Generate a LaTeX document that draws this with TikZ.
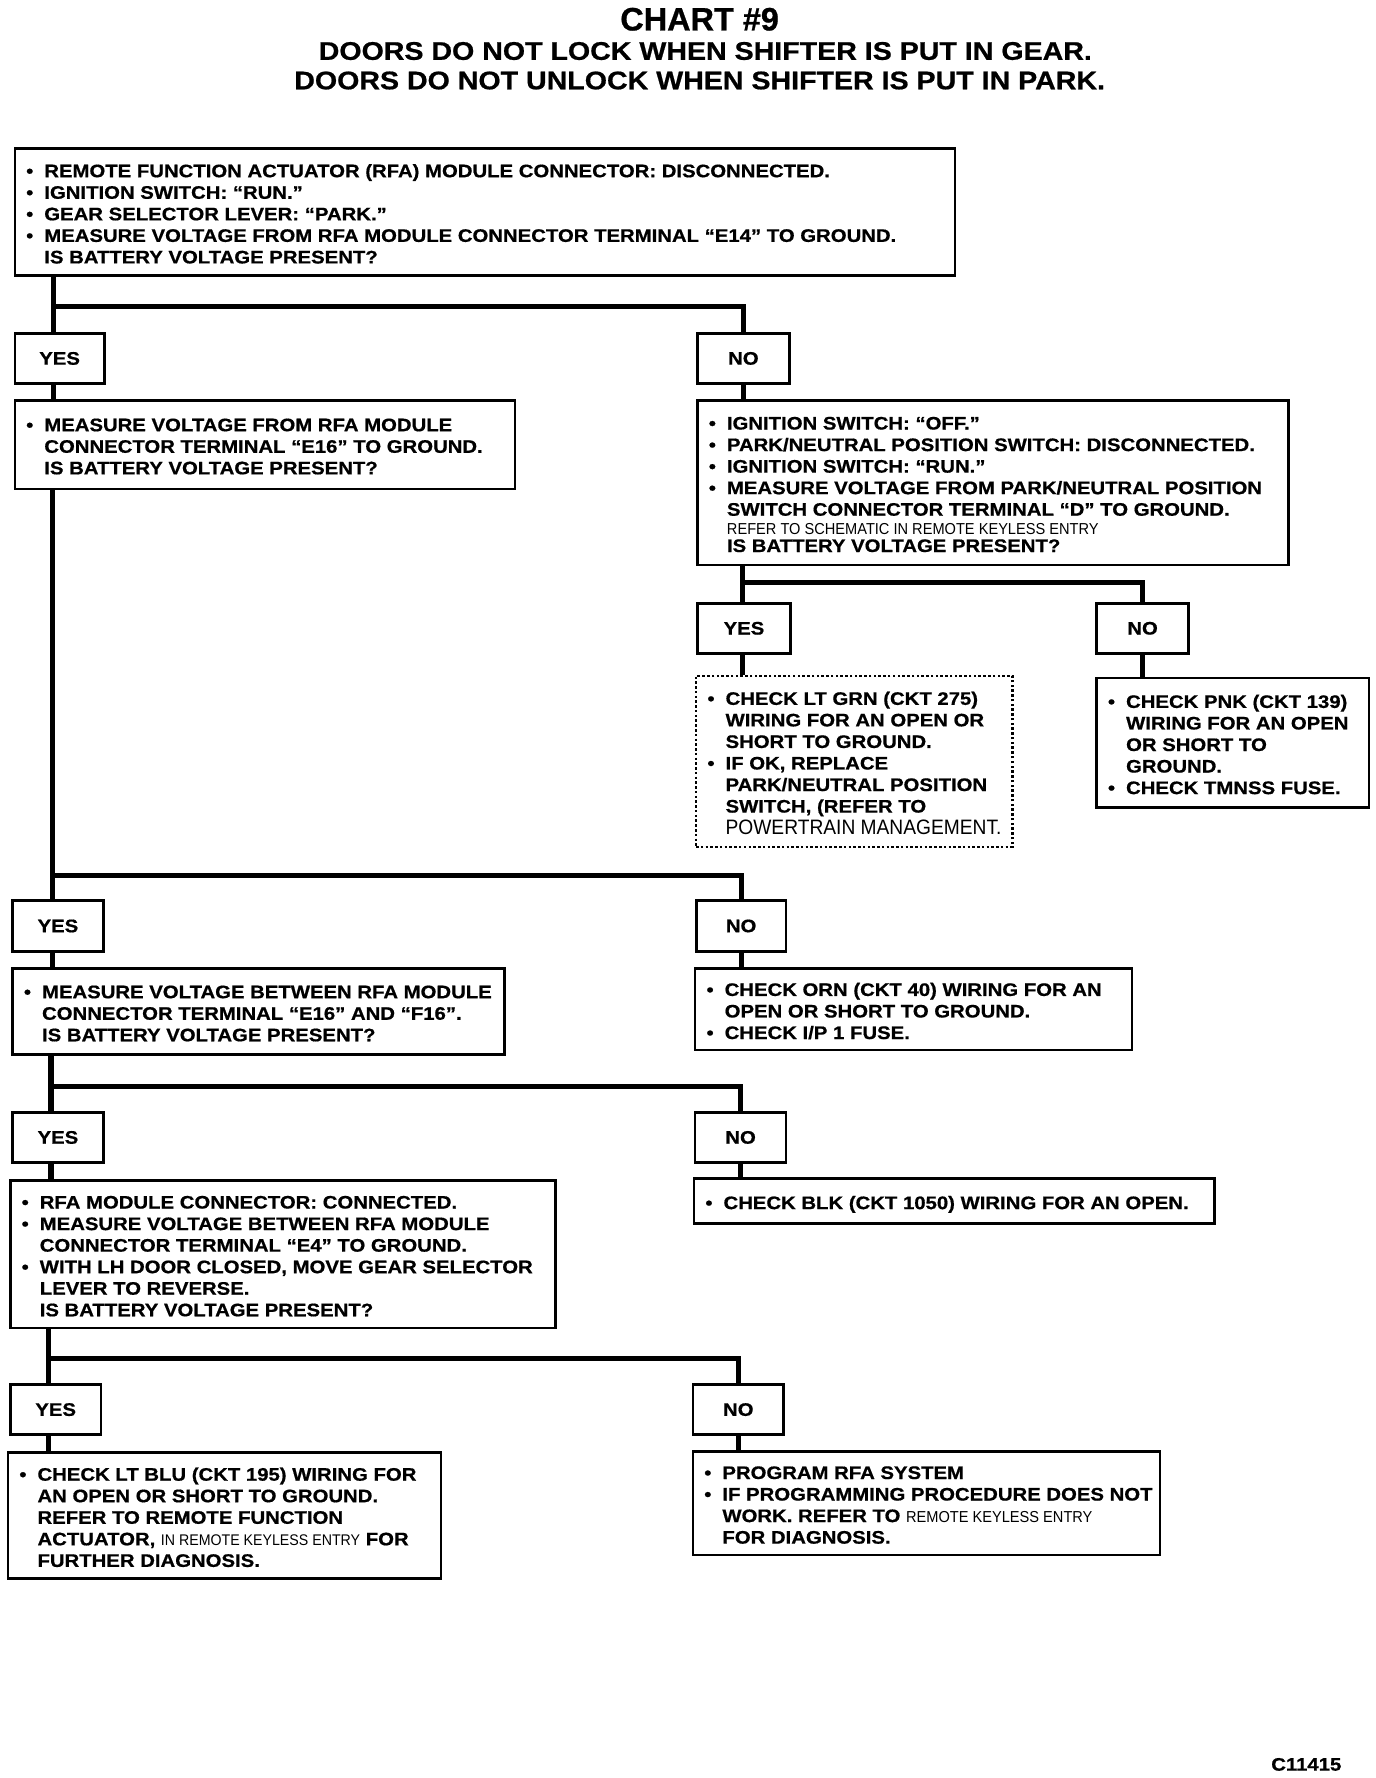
\documentclass[tikz,border=0pt]{standalone}
\usepackage{fontspec}
\setmainfont{Liberation Sans}
\newfontfamily\bxfam{Liberation Sans}[FakeStretch=1.12,BoldFeatures={FakeBold=0.7}]
\newfontfamily\ttfam{Liberation Sans}[BoldFeatures={FakeBold=0.7}]
\newfontfamily\narfam{Liberation Sans}[FakeStretch=0.92]
\newcommand\bxfont{\bxfam\bfseries\fontsize{8}{9.5}\selectfont}
\newcommand\smf{\narfam\mdseries\fontsize{7}{8}\selectfont}
\newcommand\pwf{\narfam\mdseries\fontsize{9.2}{9.5}\selectfont}
\newcommand\bl{\makebox[8pt][l]{•}}
\newcommand\ind{\hspace*{8pt}}
\newcommand\boxtext[2]{\makebox[#1][l]{\raisebox{0pt}[\dimexpr\height+1.7pt][\dimexpr\depth-1.7pt]{\begin{tabular}{@{}l@{}}#2\end{tabular}}}}
\begin{document}
\begin{tikzpicture}[x=0.5pt,y=-0.5pt,
  bx/.style={draw,line width=1.1pt,anchor=north west,inner xsep=5pt,inner ysep=1pt,font=\bxfont},
  dotbx/.style={bx,densely dotted,line width=0.9pt},
  yn/.style={draw,line width=1.1pt,anchor=north west,inner sep=0pt,font=\bxfont},
  conn/.style={line width=2.3pt},
  ttl/.style={font=\bxfam\bfseries\fontsize{11.25}{13}\selectfont}]
\useasboundingbox (0,0) rectangle (1213,1568);

% titles
\node[font=\ttfam\bfseries\fontsize{14.3}{16}\selectfont] (t0) at (617,17) {CHART \#9};
\node[ttl] (t1) at (622,45) {DOORS DO NOT LOCK WHEN SHIFTER IS PUT IN GEAR.};
\node[ttl] (t2) at (617,71) {DOORS DO NOT UNLOCK WHEN SHIFTER IS PUT IN PARK.};

% boxes
\node[bx,minimum height=56pt] (b1) at (12,130) {\boxtext{404.5pt}{%
\bl REMOTE FUNCTION ACTUATOR (RFA) MODULE CONNECTOR: DISCONNECTED.\\
\bl IGNITION SWITCH: “RUN.”\\
\bl GEAR SELECTOR LEVER: “PARK.”\\
\bl MEASURE VOLTAGE FROM RFA MODULE CONNECTOR TERMINAL “E14” TO GROUND.\\
\ind IS BATTERY VOLTAGE PRESENT?}};

\node[yn,minimum width=39.5pt,minimum height=22pt] (y1) at (12,293) {YES};
\node[yn,minimum width=40.5pt,minimum height=22pt] (n1) at (614,293) {NO};

\node[bx,minimum height=39pt] (b2) at (12,352) {\boxtext{210.5pt}{%
\bl MEASURE VOLTAGE FROM RFA MODULE\\
\ind CONNECTOR TERMINAL “E16” TO GROUND.\\
\ind IS BATTERY VOLTAGE PRESENT?}};

\node[bx,minimum height=72.5pt] (b3) at (614,352) {\boxtext{250.5pt}{%
\bl IGNITION SWITCH: “OFF.”\\
\bl PARK/NEUTRAL POSITION SWITCH: DISCONNECTED.\\
\bl IGNITION SWITCH: “RUN.”\\
\bl MEASURE VOLTAGE FROM PARK/NEUTRAL POSITION\\
\ind SWITCH CONNECTOR TERMINAL “D” TO GROUND.\\[-1pt]
\ind{\smf REFER TO SCHEMATIC IN REMOTE KEYLESS ENTRY}\\[-2pt]
\ind IS BATTERY VOLTAGE PRESENT?}};

\node[yn,minimum width=41pt,minimum height=22pt] (y2) at (614,531) {YES};
\node[yn,minimum width=40.5pt,minimum height=22pt] (n2) at (966,531) {NO};

\node[dotbx,minimum height=75.5pt] (chk) at (613,595) {\boxtext{129.5pt}{%
\bl CHECK LT GRN (CKT 275)\\
\ind WIRING FOR AN OPEN OR\\
\ind SHORT TO GROUND.\\
\bl IF OK, REPLACE\\
\ind PARK/NEUTRAL POSITION\\
\ind SWITCH, (REFER TO\\
\ind{\pwf POWERTRAIN MANAGEMENT.}}};

\node[bx,minimum height=57pt] (pnk) at (966,597) {\boxtext{110pt}{%
\bl CHECK PNK (CKT 139)\\
\ind WIRING FOR AN OPEN\\
\ind OR SHORT TO\\
\ind GROUND.\\
\bl CHECK TMNSS FUSE.}};

\node[yn,minimum width=40pt,minimum height=22.5pt] (y3) at (10,793) {YES};
\node[yn,minimum width=39.5pt,minimum height=22.5pt] (n3) at (613,793) {NO};

\node[bx,minimum height=38pt] (b4) at (10,853) {\boxtext{207pt}{%
\bl MEASURE VOLTAGE BETWEEN RFA MODULE\\
\ind CONNECTOR TERMINAL “E16” AND “F16”.\\
\ind IS BATTERY VOLTAGE PRESENT?}};

\node[bx,minimum height=36pt] (orn) at (612,853) {\boxtext{182.5pt}{%
\bl CHECK ORN (CKT 40) WIRING FOR AN\\
\ind OPEN OR SHORT TO GROUND.\\
\bl CHECK I/P 1 FUSE.}};

\node[yn,minimum width=40pt,minimum height=22pt] (y4) at (10,980) {YES};
\node[yn,minimum width=40pt,minimum height=22pt] (n4) at (612,980) {NO};

\node[bx,minimum height=65pt] (b5) at (8,1040) {\boxtext{230.5pt}{%
\bl RFA MODULE CONNECTOR: CONNECTED.\\
\bl MEASURE VOLTAGE BETWEEN RFA MODULE\\
\ind CONNECTOR TERMINAL “E4” TO GROUND.\\
\bl WITH LH DOOR CLOSED, MOVE GEAR SELECTOR\\
\ind LEVER TO REVERSE.\\
\ind IS BATTERY VOLTAGE PRESENT?}};

\node[bx,minimum height=20pt] (blk) at (611,1038) {\boxtext{219.5pt}{%
\bl CHECK BLK (CKT 1050) WIRING FOR AN OPEN.}};

\node[yn,minimum width=40pt,minimum height=22pt] (y5) at (8,1220) {YES};
\node[yn,minimum width=40pt,minimum height=22pt] (n5) at (610,1220) {NO};

\node[bx,minimum height=55.5pt] (b6) at (6,1280) {\boxtext{181pt}{%
\bl CHECK LT BLU (CKT 195) WIRING FOR\\
\ind AN OPEN OR SHORT TO GROUND.\\
\ind REFER TO REMOTE FUNCTION\\
\ind ACTUATOR, {\smf\fontsize{6.8}{8}\selectfont IN REMOTE KEYLESS ENTRY} FOR\\
\ind FURTHER DIAGNOSIS.}};

\node[bx,minimum height=45.5pt] (prg) at (610,1279) {\boxtext{196pt}{%
\bl PROGRAM RFA SYSTEM\\
\bl IF PROGRAMMING PROCEDURE DOES NOT\\
\ind WORK. REFER TO {\smf REMOTE KEYLESS ENTRY}\\
\ind FOR DIAGNOSIS.}};

\node[font=\bxfont] (code) at (1152,1556) {C11415};

% junctions
\coordinate (j1) at (47,270);
\coordinate (j2) at (655,514);
\coordinate (j3) at (46,772);
\coordinate (j4) at (45,958);
\coordinate (j5) at (43,1198);

% connectors
\draw[conn] (b1.south -| j1) -- (y1.north -| j1);
\draw[conn] (j1) -| (n1.north);
\draw[conn] (y1.south -| j1) -- (b2.north -| j1);
\draw[conn] (n1.south) -- (b3.north -| n1.south);

\draw[conn] (b3.south -| j2) -- (y2.north -| j2);
\draw[conn] (j2) -| (n2.north);
\draw[conn] (y2.south -| j2) -- (chk.north -| j2);
\draw[conn] (n2.south) -- (pnk.north -| n2.south);

\draw[conn] (b2.south -| j3) -- (y3.north -| j3);
\draw[conn] (j3) -| (n3.north);
\draw[conn] (y3.south -| j3) -- (b4.north -| j3);
\draw[conn] (n3.south) -- (orn.north -| n3.south);

\draw[conn] (b4.south -| j4) -- (y4.north -| j4);
\draw[conn] (j4) -| (n4.north);
\draw[conn] (y4.south -| j4) -- (b5.north -| j4);
\draw[conn] (n4.south) -- (blk.north -| n4.south);

\draw[conn] (b5.south -| j5) -- (y5.north -| j5);
\draw[conn] (j5) -| (n5.north);
\draw[conn] (y5.south -| j5) -- (b6.north -| j5);
\draw[conn] (n5.south) -- (prg.north -| n5.south);
\end{tikzpicture}
\end{document}
